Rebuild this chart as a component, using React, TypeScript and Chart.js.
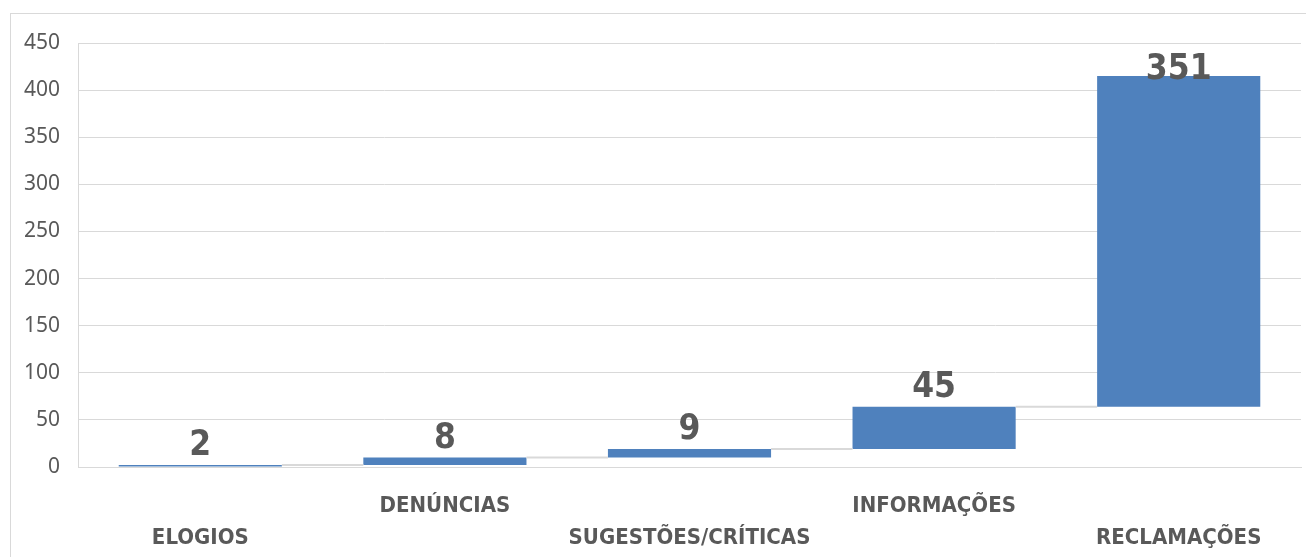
import React, { useEffect, useRef } from "react";
import { Chart, registerables } from "chart.js";

Chart.register(...registerables);

const categories = ["ELOGIOS", "DENÚNCIAS", "SUGESTÕES/CRÍTICAS", "INFORMAÇÕES", "RECLAMAÇÕES"];
const values = [2, 8, 9, 45, 351];
const yMin = 0;
const yMax = 450;
const yStep = 50;

const BAR_COLOR = "#4f81bd";
const GRID_COLOR = "#d9d9d9";
const TEXT_COLOR = "#595959";
const NARROW = '"Liberation Sans Narrow", "DejaVu Sans Condensed", "Roboto", sans-serif';

export default function App() {
  const ref = useRef<HTMLCanvasElement>(null);

  useEffect(() => {
    document.body.style.margin = "0";
    document.body.style.overflow = "hidden";
    const canvas = ref.current!;
    // cumulative floating ranges
    const ranges: [number, number][] = [];
    let acc = 0;
    values.forEach((v) => {
      ranges.push([acc, acc + v]);
      acc += v;
    });
    const labels = categories.map((c, i) => (i % 2 === 0 ? ["", c] : [c]));

    const waterfallPlugin = {
      id: "waterfallExtras",
      beforeDraw(chart: any) {
        const ctx = chart.ctx;
        ctx.save();
        ctx.strokeStyle = GRID_COLOR;
        ctx.lineWidth = 1;
        ctx.strokeRect(10.5, 13.5, chart.width + 20, chart.height + 20);
        ctx.restore();
      },
      afterDatasetsDraw(chart: any) {
        const ctx = chart.ctx;
        const meta = chart.getDatasetMeta(0);
        const yScale = chart.scales.y;
        ctx.save();
        // connectors
        ctx.strokeStyle = GRID_COLOR;
        ctx.lineWidth = 2;
        for (let i = 0; i < meta.data.length - 1; i++) {
          const a = meta.data[i];
          const b = meta.data[i + 1];
          const y = yScale.getPixelForValue(ranges[i][1]);
          ctx.beginPath();
          ctx.moveTo(a.x + a.width / 2, y);
          ctx.lineTo(b.x - b.width / 2, y);
          ctx.stroke();
        }
        // data labels
        ctx.fillStyle = TEXT_COLOR;
        ctx.font = `bold 35px ${NARROW}`;
        ctx.textAlign = "center";
        ctx.textBaseline = "alphabetic";
        meta.data.forEach((bar: any, i: number) => {
          const text = String(values[i]);
          const m = ctx.measureText(text);
          const asc = m.actualBoundingBoxAscent || 28;
          const top = yScale.getPixelForValue(ranges[i][1]);
          let base = top - 10;
          const minBase = chart.chartArea.top + 10 + asc;
          if (base < minBase) base = minBase;
          ctx.fillText(text, bar.x, base);
        });
        ctx.restore();
      },
    };

    const chart = new Chart(canvas, {
      type: "bar",
      data: {
        labels,
        datasets: [
          {
            data: ranges as any,
            backgroundColor: BAR_COLOR,
            borderWidth: 0,
            barPercentage: 0.667,
            categoryPercentage: 1,
          },
        ],
      },
      options: {
        animation: false,
        responsive: false,
        maintainAspectRatio: false,
        layout: { padding: { top: 43, right: 5, bottom: 0, left: 0 } },
        plugins: { legend: { display: false }, tooltip: { enabled: false } },
        scales: {
          x: {
            grid: { display: false, drawTicks: false },
            border: { display: true, color: GRID_COLOR },
            ticks: {
              color: TEXT_COLOR,
              font: { family: NARROW, size: 22, weight: "bold", lineHeight: 1.4545 },
              padding: 23,
              maxRotation: 0,
              autoSkip: false,
            },
            afterFit(scale: any) {
              scale.height = 90;
            },
          },
          y: {
            min: yMin,
            max: yMax,
            grid: { color: GRID_COLOR, drawTicks: false },
            border: { display: true, color: GRID_COLOR },
            ticks: {
              stepSize: yStep,
              color: TEXT_COLOR,
              font: { family: '"Noto Sans", sans-serif', size: 21 },
              padding: 18,
            },
            afterFit(scale: any) {
              scale.width = 78;
            },
          },
        },
      },
      plugins: [waterfallPlugin],
    });
    return () => chart.destroy();
  }, []);

  return <canvas ref={ref} width={1306} height={557} style={{ display: "block" }} />;
}
